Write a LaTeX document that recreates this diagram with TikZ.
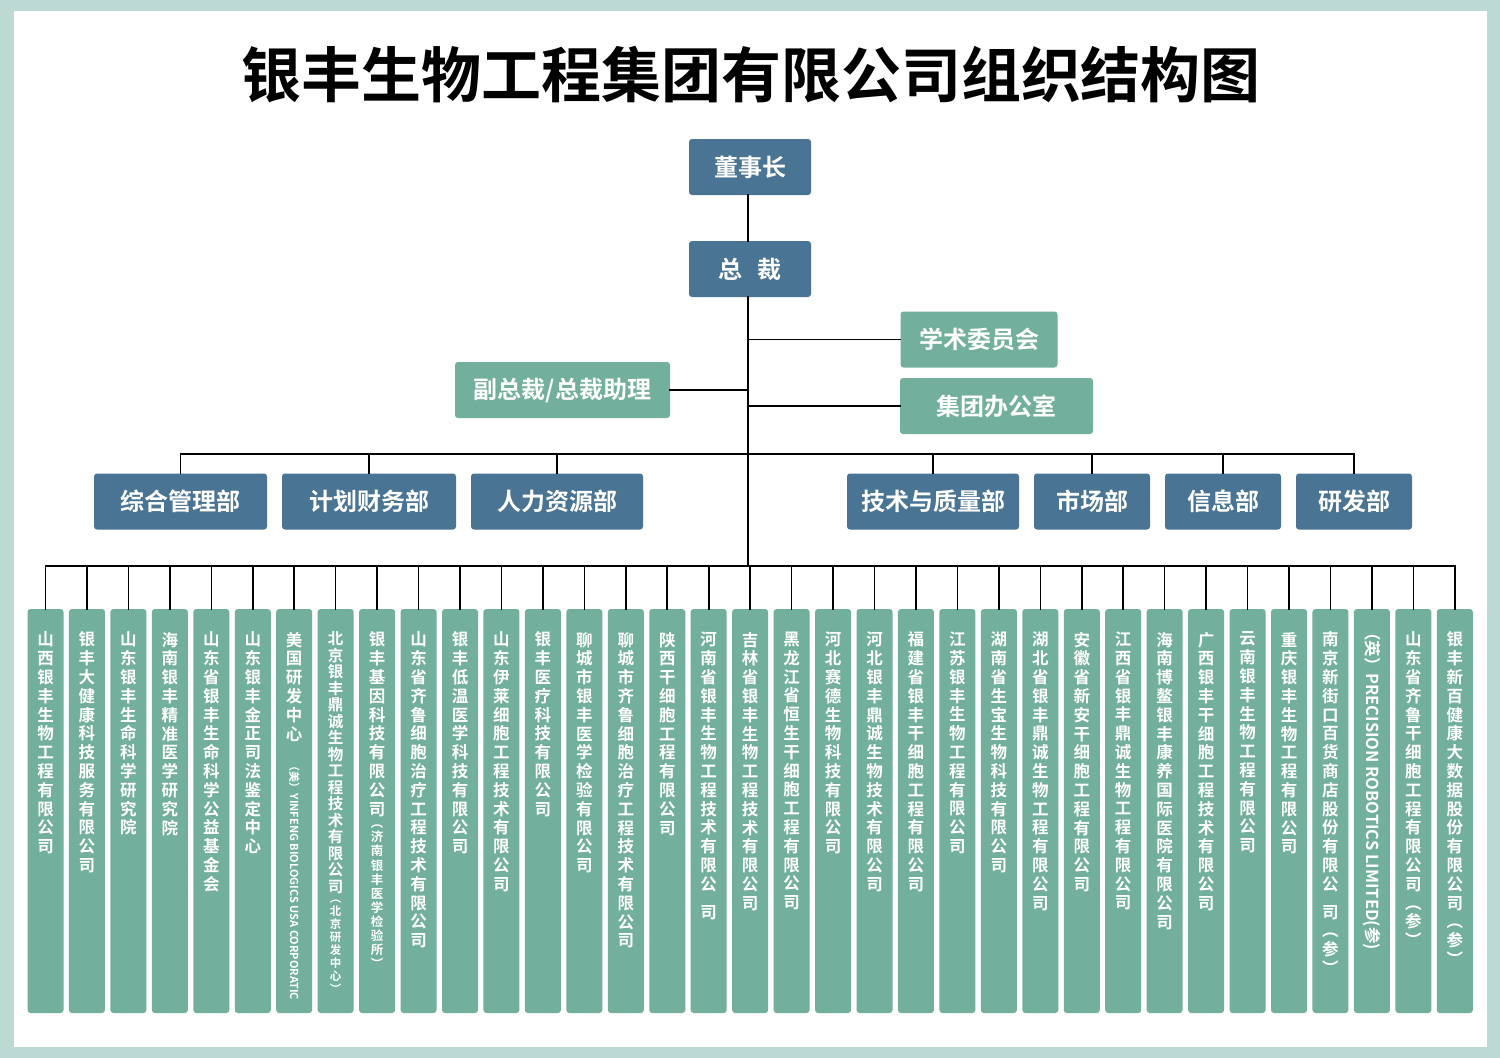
\documentclass[tikz,border=0pt]{standalone}
\usepackage{fontspec}
\setmainfont{Noto Sans CJK SC}[BoldFont={Noto Sans CJK SC Bold}]
\usetikzlibrary{positioning}

\definecolor{frame}{HTML}{BCD9D4}
\definecolor{boss}{HTML}{4A7494}
\definecolor{staff}{HTML}{72AF9C}

% one character per line, \vgap gives a little extra room
\let\vtend\relax
\newcommand\vgap{}
\def\vtaux#1{%
  \ifx#1\vtend\else
    \ifx#1\vgap\kern9pt\relax\else\hbox to 1em{\hss#1\hss}\fi
    \expandafter\vtaux
  \fi}
\newcommand\vtext[1]{\vbox{\lineskiplimit=-100pt\expandafter\vtaux#1\vtend}}

\begin{document}
\begin{tikzpicture}[x=1pt,y=-1pt,
    link/.style={line width=1.6pt,line cap=rect},
    lead/.style={fill=boss,text=white,rounded corners=3pt,inner sep=0pt,
      minimum height=56pt,font=\fontsize{24}{26}\selectfont\bfseries},
    aide/.style={lead,fill=staff},
    unit/.style={fill=staff,rounded corners=3pt,inner sep=0pt,
      minimum width=36pt,minimum height=404pt},
    unitname/.style={text=white,inner sep=0pt,
      font=\fontsize{16.5}{18.8}\selectfont\bfseries}]
    \fill[frame] (0,0) rectangle (1500,1058);
    \fill[white] (14,11) rectangle (1487,1047);
    \node[font=\fontsize{60}{64}\selectfont\bfseries] (title) at (751,75)
      {银丰生物工程集团有限公司组织结构图};

    \node[lead,minimum width=122pt] (chair) at (750,167) {董事长};
    \node[lead,minimum width=122pt] (ceo) at (750,269) {总\hspace{0.6em}裁};
    \node[aide,minimum width=157pt] (acad) at (979,339.5) {学术委员会};
    \node[aide,minimum width=193pt] (office) at (996.5,406) {集团办公室};
    \node[aide,minimum width=215pt] (vp) at (562.5,390) {副总裁/总裁助理};
    \foreach \d/\x/\w/\name in {1/180.5/173/综合管理部, 2/369/174/计划财务部,
        3/557/172/人力资源部, 4/933/172/技术与质量部, 5/1092/116/市场部,
        6/1223/116/信息部, 7/1354/116/研发部}
      \node[lead,minimum width=\w pt] (d\d) at (\x,501.5) {\name};

    \coordinate (deptbus) at (748,454);
    \coordinate (unitbus) at (748,566);
    \draw[link] (chair.south -| unitbus) -- (ceo.north -| unitbus);
    \draw[link] (ceo.south -| unitbus) -- (unitbus);
    \draw[link] (acad.west) -- (acad.west -| unitbus);
    \draw[link] (office.west) -- (office.west -| unitbus);
    \draw[link] (vp.east) -- (vp.east -| unitbus);
    \draw[link] (d1.north |- deptbus) -- (d7.north |- deptbus);
    \foreach \d in {1,...,7}
      \draw[link] (d\d.north) -- (d\d.north |- deptbus);

    \draw[link] (45.5,566) -- (1454.8,566);
    \foreach \i in {1,...,35}
    {
      \node[unit] (u\i) at ({45.5+(\i-1)*41.45},811) {};
      \draw[link] (u\i.north) -- (u\i.north |- unitbus);
    }

    \foreach \i/\name in {1/山西银丰生物工程有限公司, 2/银丰大健康科技服务有限公司,
        3/山东银丰生命科学研究院, 4/海南银丰精准医学研究院,
        5/山东省银丰生命科学公益基金会, 6/山东银丰金正司法鉴定中心,
        7/美国研发中心, 9/银丰基因科技有限公司,
        10/山东省齐鲁细胞治疗工程技术有限公司, 11/银丰低温医学科技有限公司,
        12/山东伊莱细胞工程技术有限公司, 13/银丰医疗科技有限公司,
        14/聊城市银丰医学检验有限公司, 15/聊城市齐鲁细胞治疗工程技术有限公司,
        16/陕西干细胞工程有限公司, 17/河南省银丰生物工程技术有限公\vgap 司,
        18/吉林省银丰生物工程技术有限公司, 19/黑龙江省恒生干细胞工程有限公司,
        20/河北赛德生物科技有限公司, 21/河北银丰鼎诚生物技术有限公司,
        22/福建省银丰干细胞工程有限公司, 23/江苏银丰生物工程有限公司,
        24/湖南省生宝生物科技有限公司, 25/湖北省银丰鼎诚生物工程有限公司,
        26/安徽省新安干细胞工程有限公司, 27/江西省银丰鼎诚生物工程有限公司,
        28/海南博鳌银丰康养国际医院有限公司, 29/广西银丰干细胞工程技术有限公司,
        30/云南银丰生物工程有限公司, 31/重庆银丰生物工程有限公司,
        32/南京新街口百货商店股份有限公\vgap 司︵参︶,
        34/山东省齐鲁干细胞工程有限公司︵参︶, 35/银丰新百健康大数据股份有限公司︵参︶}
      \node[unitname,below=23pt of u\i.north] (t\i) {\vtext{\name}};

    \node[unitname,font=\fontsize{15.5}{16.5}\selectfont\bfseries,
      below=23pt of u8.north] (t8) {\vtext{北京银丰鼎诚生物工程技术有限公司}};
    \node[unitname,font=\fontsize{11.5}{13}\selectfont\bfseries,
      below=6pt of t8] (t8sub) {\vtext{︵北京研发中心︶}};
    \node[unitname,font=\fontsize{12.5}{14.1}\selectfont\bfseries,
      below=8pt of t9] (t9sub) {\vtext{︵济南银丰医学检验所︶}};
    \node[unitname,font=\fontsize{11}{12}\selectfont\bfseries,rotate=-90,
      anchor=west] (t7sub) at ([yshift=-19pt]t7.south)
      {（美）YINFENG BIOLOGICS USA CORPORATIC};
    \node[unitname,font=\fontsize{16.5}{18}\selectfont\bfseries,rotate=-90,
      anchor=west] (t33) at ([yshift=-15pt]u33.north)
      {（英）PRECISION ROBOTICS LIMITED(参)};
\end{tikzpicture}
\end{document}
